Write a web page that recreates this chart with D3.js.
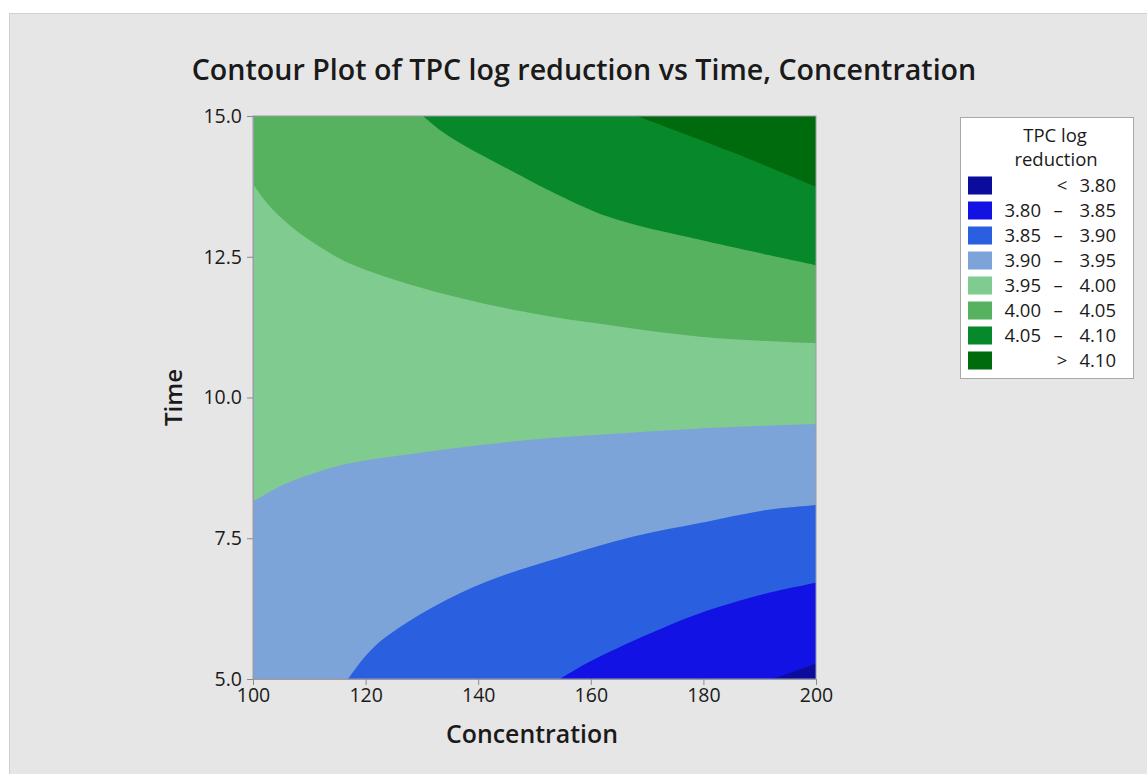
<!DOCTYPE html>
<html>
<head>
<meta charset="utf-8">
<script src="https://cdn.jsdelivr.net/npm/d3@7"></script>
<style>
  html, body { margin: 0; padding: 0; background: #ffffff; }
  svg { display: block; }
  text { font-family: 'Open Sans', 'Noto Sans', sans-serif; fill: #1a1a1a; }
</style>
</head>
<body>
<svg id="chart" width="1147" height="774"></svg>
<script>
// Axis ticks
const concentrationTicks = [100, 120, 140, 160, 180, 200];
const timeTicks = [5, 7.5, 10, 12.5, 15];

// Contour levels and band fills (lowest band first)
const levels = [3.80, 3.85, 3.90, 3.95, 4.00, 4.05, 4.10];
const bandColors = ["#0b0b9c", "#1212e4", "#2a60df", "#7ca4d9", "#80cb8f", "#56b25f", "#07882a", "#006b0c"];

// Contour lines as [Concentration, Time] points
const line380 = [[192.3, 5], [196, 5.13], [200, 5.27]];
const line385 = [[154.5, 5], [158, 5.21], [161.6, 5.40], [170.5, 5.81], [179.4, 6.17], [191.2, 6.52], [200, 6.71]];
const line390 = [[116.9, 5], [119.5, 5.35], [123, 5.70], [132, 6.28], [142, 6.75], [155, 7.17], [167.6, 7.53], [179.4, 7.77], [191.2, 8.00], [200, 8.09]];
const line395 = [[100, 8.15], [105.4, 8.45], [111, 8.66], [117.2, 8.83], [129.1, 9.01], [140.9, 9.16], [152.8, 9.28], [161.6, 9.34], [179.4, 9.45], [200, 9.53]];
const line400 = [[100, 13.79], [102.5, 13.45], [106.6, 13.05], [111.5, 12.7], [117.2, 12.38], [129.1, 11.97], [140.9, 11.67], [152.8, 11.44], [161.6, 11.31], [179.4, 11.08], [200, 10.96]];
const line405 = [[130.2, 15], [133.5, 14.73], [138, 14.45], [146.8, 13.98], [152.8, 13.67], [163.4, 13.2], [179.4, 12.8], [200, 12.35]];
const line410 = [[168.2, 15], [176.4, 14.69], [185.3, 14.35], [200, 13.74]];
const contourLines = [line380, line385, line390, line395, line400, line405, line410];

const svg = d3.select("#chart");
const W = 1147, H = 774;
const plot = { left: 253, top: 116, right: 816, bottom: 679 };

// Panel background
svg.append("rect")
  .attr("x", 9.5).attr("y", 13.5)
  .attr("width", W).attr("height", H)
  .attr("fill", "#e6e6e6").attr("stroke", "#d0d0d0");

const x = d3.scaleLinear().domain([100, 200]).range([plot.left, plot.right]);
const y = d3.scaleLinear().domain([5, 15]).range([plot.bottom, plot.top]);

svg.append("defs").append("clipPath").attr("id", "plotClip")
  .append("rect")
  .attr("x", plot.left).attr("y", plot.top)
  .attr("width", plot.right - plot.left).attr("height", plot.bottom - plot.top);

const g = svg.append("g").attr("clip-path", "url(#plotClip)");

// Lowest band fills the whole area
g.append("rect")
  .attr("x", x(100)).attr("y", y(15))
  .attr("width", x(200) - x(100)).attr("height", y(5) - y(15))
  .attr("fill", bandColors[0]);

const lineGen = d3.line().x(d => x(d[0])).y(d => y(d[1])).curve(d3.curveCatmullRom.alpha(0.5));

// Each contour line bounds the region of higher response above it
contourLines.forEach((pts, i) => {
  const start = pts[0];
  const closing = [[200, 15]];
  if (start[1] < 15) closing.push([100, 15]);
  if (start[1] === 5 && start[0] > 100) closing.push([100, 5]);
  const d = lineGen(pts) + closing.map(p => `L${x(p[0])},${y(p[1])}`).join("") + "Z";
  g.append("path").attr("d", d).attr("fill", bandColors[i + 1]);
});

// Plot frame
svg.append("rect")
  .attr("x", plot.left).attr("y", plot.top)
  .attr("width", plot.right - plot.left).attr("height", plot.bottom - plot.top)
  .attr("fill", "none").attr("stroke", "#9a9aa8").attr("stroke-width", 1);

// Axes
const xAxis = svg.append("g")
  .attr("transform", `translate(0,${plot.bottom})`)
  .call(d3.axisBottom(x).tickValues(concentrationTicks).tickSize(6).tickSizeOuter(0).tickPadding(3).tickFormat(d3.format("d")));
const yAxis = svg.append("g")
  .attr("transform", `translate(${plot.left},0)`)
  .call(d3.axisLeft(y).tickValues(timeTicks).tickSize(6).tickSizeOuter(0).tickPadding(5).tickFormat(d3.format(".1f")));
[xAxis, yAxis].forEach(a => {
  a.select(".domain").attr("stroke", "#9a9aa8");
  a.selectAll(".tick line").attr("stroke", "#8a8a8a");
  a.selectAll(".tick text")
    .attr("font-size", 19.5)
    .attr("font-family", "'Open Sans', 'Noto Sans', sans-serif")
    .attr("fill", "#1a1a1a");
});

function fitWidth(sel, target) {
  const w = sel.node().getComputedTextLength();
  const fs = parseFloat(sel.attr("font-size"));
  sel.attr("font-size", fs * target / w);
}

// Titles
const title = svg.append("text")
  .attr("x", 584).attr("y", 80)
  .attr("text-anchor", "middle")
  .attr("font-size", 27).attr("font-weight", 600)
  .text("Contour Plot of TPC log reduction vs Time, Concentration");
fitWidth(title, 785);

const xLabel = svg.append("text")
  .attr("x", 532).attr("y", 743)
  .attr("text-anchor", "middle")
  .attr("font-size", 24).attr("font-weight", 600)
  .text("Concentration");
fitWidth(xLabel, 172);

const yLabel = svg.append("text")
  .attr("transform", `translate(182,${(plot.top + plot.bottom) / 2}) rotate(-90)`)
  .attr("text-anchor", "middle")
  .attr("font-size", 24).attr("font-weight", 600)
  .text("Time");
fitWidth(yLabel, 57);

// Legend
const legend = svg.append("g");
const lfs = 18.5;
legend.append("rect")
  .attr("x", 960.5).attr("y", 117.5)
  .attr("width", 173).attr("height", 261)
  .attr("fill", "#ffffff").attr("stroke", "#a8a8a8");
legend.append("text").attr("x", 1055).attr("y", 142)
  .attr("text-anchor", "middle").attr("font-size", lfs).text("TPC log");
legend.append("text").attr("x", 1056).attr("y", 166)
  .attr("text-anchor", "middle").attr("font-size", lfs).text("reduction");

const fmt = d3.format(".2f");
const legendRows = d3.scaleLinear().domain([0, 1]).range([185.5, 210.5]);
bandColors.forEach((c, i) => {
  const cy = legendRows(i);
  legend.append("rect")
    .attr("x", 968).attr("y", cy - 9)
    .attr("width", 24).attr("height", 18)
    .attr("fill", c);
  const base = cy + 6.5;
  if (i === 0 || i === bandColors.length - 1) {
    legend.append("text").attr("x", 1062).attr("y", base)
      .attr("text-anchor", "middle").attr("font-size", lfs)
      .text(i === 0 ? "<" : ">");
    legend.append("text").attr("x", 1116).attr("y", base)
      .attr("text-anchor", "end").attr("font-size", lfs)
      .text(fmt(i === 0 ? levels[0] : levels[levels.length - 1]));
  } else {
    legend.append("text").attr("x", 1041).attr("y", base)
      .attr("text-anchor", "end").attr("font-size", lfs)
      .text(fmt(levels[i - 1]));
    legend.append("text").attr("x", 1058).attr("y", base)
      .attr("text-anchor", "middle").attr("font-size", lfs)
      .text("–");
    legend.append("text").attr("x", 1116).attr("y", base)
      .attr("text-anchor", "end").attr("font-size", lfs)
      .text(fmt(levels[i]));
  }
});
</script>
</body>
</html>
